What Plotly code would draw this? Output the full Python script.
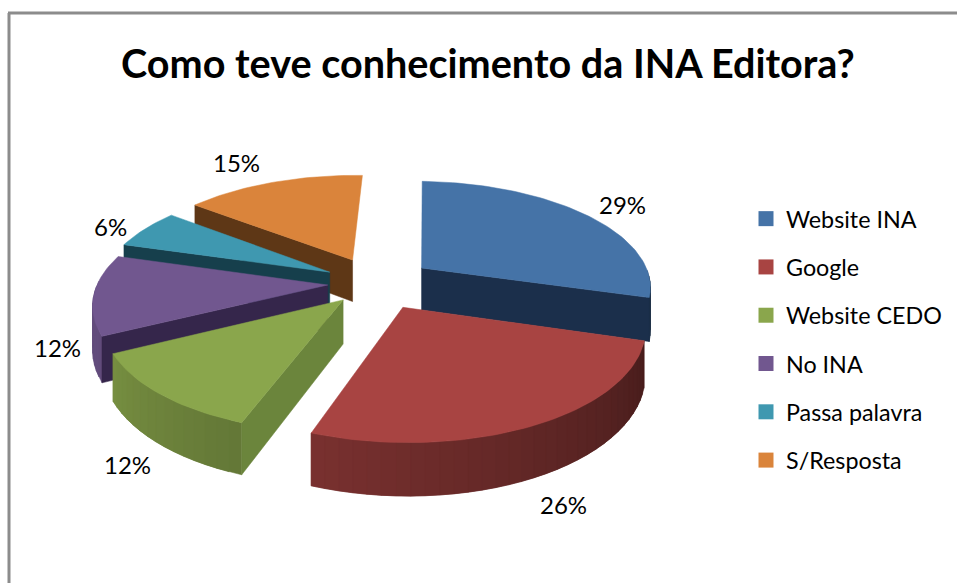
import math
import plotly.graph_objects as go

TITLE = "Como teve conhecimento da INA Editora?"
categories = ["Website INA", "Google", "Website CEDO", "No INA", "Passa palavra", "S/Resposta"]
values = [29, 26, 12, 12, 6, 15]
pulls = [0.25, 0.25, 0.21, 0.21, 0.23, 0.25]
top_colors = ["#4573A7", "#A84442", "#8AA64C", "#71578F", "#3F98B0", "#DA843B"]
wall_colors = ["#1B2F4B", "#451715", "#6B853C", "#35264B", "#163F4C", "#5E3716"]
label_pos = [(622, 204), (563, 504), (127, 464), (57, 347), (110, 226), (236, 162)]
draw_order = [5, 4, 3, 0, 2, 1]

# projection of the tilted pie
CX, CY, A, B, K, DEPTH, ROT = 376, 283, 230, 105, 0.16, 43, 2.0


def project(x, y, drop=False):
    p = 1 / (1 - K * y)
    return CX + A * x * p, CY + B * y * p + (DEPTH * p if drop else 0)


def shade(hex_color, f):
    r, g, b = (int(hex_color[i:i + 2], 16) for i in (1, 3, 5))
    return f"rgb({int(r * f)},{int(g * f)},{int(b * f)})"


def arc_angles(a0, a1, step=3.0):
    n = max(2, int(abs(a1 - a0) / step) + 1)
    return [a0 + (a1 - a0) * i / n for i in range(n + 1)]


def world(theta, ox, oy, r=1.0):
    t = math.radians(theta)
    return ox + r * math.sin(t), oy - r * math.cos(t)


fig = go.Figure()


def poly(pts, color):
    xs = [p[0] for p in pts] + [pts[0][0]]
    ys = [p[1] for p in pts] + [pts[0][1]]
    fig.add_trace(go.Scatter(x=xs, y=ys, fill="toself", fillcolor=color, mode="lines",
                             line=dict(color=color, width=0.5), hoverinfo="skip", showlegend=False))


total = sum(values)
starts = []
acc = ROT
for v in values:
    starts.append(acc)
    acc += v / total * 360

for i in draw_order:
    a0 = starts[i]
    a1 = a0 + values[i] / total * 360
    mid = math.radians((a0 + a1) / 2)
    ox, oy = pulls[i] * math.sin(mid), -pulls[i] * math.cos(mid)
    # outer curved wall, shaded by direction; each strip runs on under the next to hide seams
    angs = arc_angles(a0, a1)
    for j, (u, w) in enumerate(zip(angs[:-1], angs[1:])):
        m = (u + w) / 2
        if 90 < m < 270:
            f = 0.42 + (m - 104) / 136 * 0.43
            f = min(0.88, max(0.4, f))
            end = angs[min(j + 2, len(angs) - 1)]
            pu, pw = world(u, ox, oy), world(end, ox, oy)
            poly([project(*pu), project(*pw), project(*pw, drop=True), project(*pu, drop=True)],
                 shade(top_colors[i], f))
    # radial side walls that face the viewer
    for edge, normal in ((a0, a0 - 90), (a1, a1 + 90)):
        if -math.cos(math.radians(normal)) > 0.06:
            rim = world(edge, ox, oy)
            poly([project(ox, oy), project(*rim), project(*rim, drop=True), project(ox, oy, drop=True)],
                 wall_colors[i])
    # top face
    pts = [project(ox, oy)] + [project(*world(t, ox, oy)) for t in arc_angles(a0, a1, 1.5)]
    poly(pts, top_colors[i])

# legend entries
for name, col in zip(categories, top_colors):
    fig.add_trace(go.Scatter(x=[None], y=[None], mode="markers", name=name, legendgroup=name,
                             marker=dict(symbol="square", size=15, color=col)))

annotations = [dict(x=px, y=py, text=f"{v}%", showarrow=False, xanchor="center", yanchor="middle",
                    font=dict(family="Lato", size=24, color="#000000"))
               for v, (px, py) in zip(values, label_pos)]
annotations.append(dict(x=488, y=62, text=f"<b>{TITLE}</b>", showarrow=False, xanchor="center", yanchor="middle",
                        font=dict(family="Lato", size=39.6, color="#000000")))

fig.update_layout(
    width=957, height=583, margin=dict(l=0, r=0, t=0, b=0),
    paper_bgcolor="#FFFFFF", plot_bgcolor="#FFFFFF",
    xaxis=dict(range=[0, 957], visible=False, fixedrange=True),
    yaxis=dict(range=[583, 0], visible=False, fixedrange=True),
    annotations=annotations,
    shapes=[
        dict(type="line", x0=9, x1=9, y0=13, y1=583, line=dict(color="#8C8C8C", width=3)),
        dict(type="line", x0=8, x1=957, y0=13, y1=13, line=dict(color="#8C8C8C", width=3)),
    ],
    legend=dict(x=746 / 957, y=1 - 197 / 583, xanchor="left", yanchor="top",
                tracegroupgap=15, bgcolor="rgba(0,0,0,0)",
                font=dict(family="Lato", size=23.3, color="#000000")),
)

fig.write_html("out.html", config={"displayModeBar": False},
               post_script="document.body.style.margin='0';document.documentElement.style.overflow='hidden';")
